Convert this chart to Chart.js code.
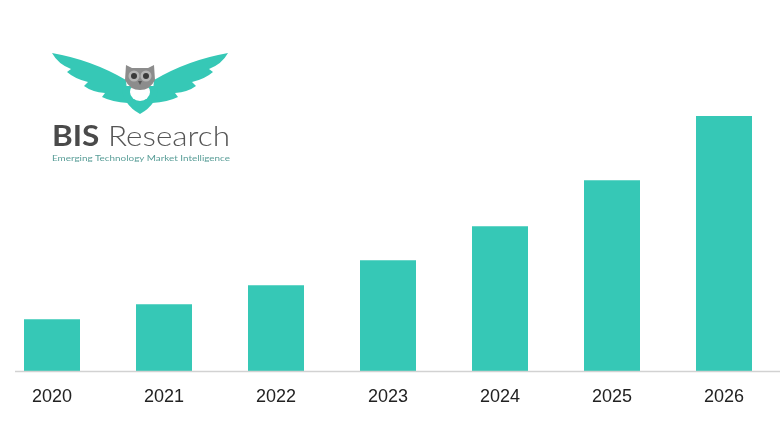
<!DOCTYPE html>
<html>
<head>
<meta charset="utf-8">
<script src="https://cdn.jsdelivr.net/npm/chart.js@4"></script>
<style>
  html, body { margin: 0; padding: 0; background: #fff; overflow: hidden; }
  #wrap { position: absolute; left: -4px; top: 0; width: 784px; height: 440px; }
  #logo { position: absolute; left: 0; top: 0; width: 260px; height: 180px; pointer-events: none; }
</style>
</head>
<body>
<div id="wrap"><canvas id="chart"></canvas></div>
<svg id="logo" viewBox="0 0 260 180" xmlns="http://www.w3.org/2000/svg">
  <!-- wings -->
  <path d="M52 53 Q92 60 126 80 L128 103 Q112 102 102 97 L105 93 Q92 92 84 86 L88 82 Q75 79 67 72 L71 69 Q58 64 52 53 Z" fill="#36c8b6"/>
  <path d="M228 53 Q188 60 154 80 L152 103 Q168 102 178 97 L175 93 Q188 92 196 86 L192 82 Q205 79 213 72 L209 69 Q222 64 228 53 Z" fill="#36c8b6"/>
  <!-- body -->
  <path d="M122 86 Q122 104 140 114 Q158 104 158 86 Z" fill="#36c8b6"/>
  <ellipse cx="140" cy="92" rx="10" ry="9" fill="#ffffff"/>
  <!-- head -->
  <path d="M126 65 L132 68 L148 68 L154 65 L155 80 Q150 90 140 90 Q130 90 125 80 Z" fill="#8c8c8c"/>
  <circle cx="134" cy="76" r="5.5" fill="#b5b5b5"/>
  <circle cx="146" cy="76" r="5.5" fill="#b5b5b5"/>
  <circle cx="134" cy="76" r="3" fill="#3a3a3a"/>
  <circle cx="146" cy="76" r="3" fill="#3a3a3a"/>
  <path d="M138 81 L142 81 L140 85 Z" fill="#555"/>
  <!-- wordmark -->
  <text x="52" y="146" font-family="Lato, 'Open Sans', sans-serif" font-size="28" textLength="178" lengthAdjust="spacingAndGlyphs"><tspan font-weight="700" fill="#4a4a4a">BIS</tspan><tspan font-weight="300" fill="#555555"> Research</tspan></text>
  <text x="52" y="161" font-family="Lato, 'Open Sans', sans-serif" font-size="8" fill="#5a9e98" textLength="178" lengthAdjust="spacingAndGlyphs">Emerging Technology Market Intelligence</text>
</svg>
<script>
const years = ['2020', '2021', '2022', '2023', '2024', '2025', '2026'];
const values = [52, 67, 86, 111, 145, 191, 255];
const barColor = '#36c8b6';

// axis line drawn from a little right of the left edge, like the original
const baseLine = {
  id: 'baseLine',
  afterDatasetsDraw(chart) {
    const ctx = chart.ctx;
    const y = chart.scales.y.getPixelForValue(0);
    ctx.save();
    ctx.strokeStyle = '#d2d2d2';
    ctx.lineWidth = 1.5;
    ctx.beginPath();
    ctx.moveTo(19, y);
    ctx.lineTo(chart.width, y);
    ctx.stroke();
    ctx.restore();
  }
};

new Chart(document.getElementById('chart'), {
  type: 'bar',
  data: {
    labels: years,
    datasets: [{
      data: values,
      backgroundColor: barColor,
      barPercentage: 0.5,
      categoryPercentage: 1
    }]
  },
  options: {
    responsive: true,
    maintainAspectRatio: false,
    animation: false,
    layout: { padding: { top: 71, bottom: 25, left: 0, right: 0 } },
    plugins: { legend: { display: false }, tooltip: { enabled: false } },
    scales: {
      x: {
        grid: { display: false },
        border: { display: false },
        ticks: {
          color: '#222',
          padding: 7,
          font: { family: 'Liberation Sans, Arial, sans-serif', size: 18 }
        }
      },
      y: {
        display: false,
        min: 0,
        max: 300
      }
    }
  },
  plugins: [baseLine]
});
</script>
</body>
</html>
